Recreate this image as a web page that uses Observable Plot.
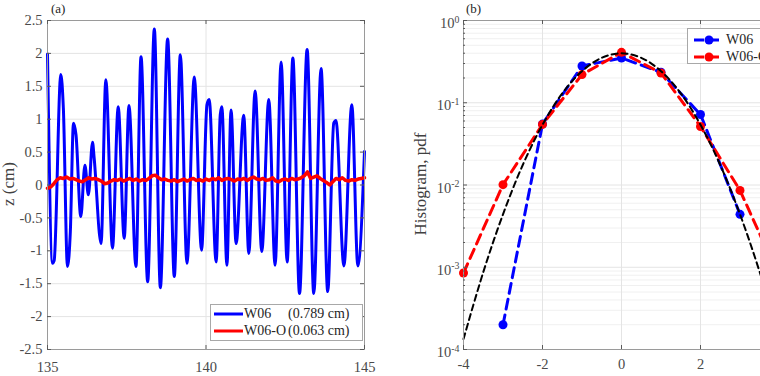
<!DOCTYPE html>
<html>
<head>
<meta charset="utf-8">
<script src="https://cdn.jsdelivr.net/npm/d3@7"></script>
<script src="https://cdn.jsdelivr.net/npm/@observablehq/plot@0.6"></script>
<style>
  html, body { margin: 0; padding: 0; background: #fff; overflow: hidden; }
  #fig { position: relative; width: 760px; height: 376px; overflow: hidden;
         font-family: "Liberation Serif", "Times New Roman", Times, serif; color: #262626; }
  .panel { position: absolute; top: 0; }
  .panel svg { max-width: none !important; }
  .tag { position: absolute; font-size: 13px; color: #262626; }
  .ylab { position: absolute; font-size: 17px; color: #404040; white-space: nowrap;
          transform: translate(-50%, -50%) rotate(-90deg); }
  .legend { position: absolute; background: #fff; border: 1px solid #a8a8a8; box-sizing: border-box;
            font-size: 14px; color: #262626; }
  .legend span { position: absolute; white-space: nowrap; line-height: 1; }
  .legend svg { position: absolute; left: 0; top: 0; overflow: visible; }
</style>
</head>
<body>
<div id="fig"></div>
<script>
// ---- panel (a): surface elevation time series ----
const xTicksA = [135, 140, 145];
const yTicksA = [-2.5, -2, -1.5, -1, -0.5, 0, 0.5, 1, 1.5, 2, 2.5];

// W06: crest / trough (and shoulder) samples, time in s, z in cm
const w06Time = [135.00, 135.16, 135.21, 135.42, 135.50, 135.63, 135.72, 135.82, 135.90, 136.05,
  136.18, 136.29, 136.42, 136.47, 136.69, 136.84, 137.05, 137.23, 137.42, 137.57,
  137.79, 137.95, 138.16, 138.37, 138.56, 138.79, 139.00, 139.19, 139.40, 139.63,
  139.86, 140.03, 140.10, 140.32, 140.45, 140.50, 140.66, 140.79, 140.95, 141.19,
  141.35, 141.55, 141.76, 141.98, 142.18, 142.37, 142.56, 142.74, 142.95, 143.19,
  143.40, 143.63, 143.84, 144.03, 144.10, 144.35, 144.60, 144.79, 145.00];
const w06Z = [1.99, -1.19, -1.15, 1.68, 1.17, -1.24, -0.71, 0.94, 0.76, -0.48,
  0.30, -0.15, 0.65, 0.42, -0.89, 1.60, -0.96, 1.19, -0.81, 1.21,
  -1.24, 1.95, -1.47, 2.37, -1.56, 2.22, -1.39, 1.98, -1.19, 1.64,
  -0.99, 1.22, 1.30, -1.17, 1.07, 1.19, -1.22, 1.14, -0.89, 1.06,
  -1.04, 1.43, -1.01, 1.30, -1.22, 1.87, -1.17, 1.93, -1.65, 2.06,
  -1.65, 1.77, -1.62, 0.94, 0.98, -1.23, 1.22, -1.23, 0.51];

// W06-O: sampled every 0.1 s from 135 s to 145 s
const w06oStart = 135, w06oStep = 0.1;
const w06oZ = [-0.05, -0.03, 0.02, 0.08, 0.11, 0.10, 0.12, 0.09, 0.10, 0.08,
  0.06, 0.05, 0.08, 0.11, 0.09, 0.10, 0.08, 0.06, 0.02, 0.03,
  0.06, 0.08, 0.07, 0.09, 0.06, 0.08, 0.10, 0.07, 0.09, 0.06,
  0.08, 0.07, 0.10, 0.14, 0.15, 0.11, 0.08, 0.09, 0.07, 0.06,
  0.08, 0.05, 0.07, 0.09, 0.06, 0.08, 0.10, 0.07, 0.08, 0.06,
  0.09, 0.07, 0.10, 0.08, 0.11, 0.07, 0.09, 0.10, 0.08, 0.06,
  0.09, 0.08, 0.10, 0.07, 0.10, 0.12, 0.09, 0.08, 0.10, 0.07,
  0.08, 0.11, 0.06, 0.05, 0.08, 0.09, 0.07, 0.10, 0.08, 0.09,
  0.11, 0.14, 0.20, 0.10, 0.12, 0.14, 0.10, 0.07, 0.04, 0.00,
  0.05, 0.10, 0.08, 0.11, 0.07, 0.06, 0.08, 0.07, 0.09, 0.10, 0.11];

// ---- panel (b): histogram pdf ----
const xTicksB = [-4, -2, 0, 2, 4];
const yTicksB = [1e-4, 1e-3, 1e-2, 1e-1, 1];
const binsW06 = [-3, -2, -1, 0, 1, 2, 3];
const pdfW06 = [0.0002, 0.055, 0.28, 0.35, 0.235, 0.072, 0.0044];
const binsW06O = [-4, -3, -2, -1, 0, 1, 2, 3, 4];
const pdfW06O = [0.00085, 0.0101, 0.0545, 0.22, 0.41, 0.23, 0.0515, 0.0086, 0.00075];
const gaussX = [-4, -3.5, -3, -2.5, -2, -1.5, -1, -0.5, 0, 0.5, 1, 1.5, 2, 2.5, 3, 3.5, 4];
const gaussPdf = [0.000134, 0.00087, 0.0044, 0.0175, 0.054, 0.13, 0.242, 0.352, 0.399,
  0.352, 0.242, 0.13, 0.054, 0.0175, 0.0044, 0.00087, 0.000134];

const seriesA = [
  {name: "W06", rms: "(0.789 cm)", color: "#0000ff"},
  {name: "W06-O", rms: "(0.063 cm)", color: "#ff0000"}
];

// tables for the marks
const w06 = w06Time.map((t, i) => ({t, z: w06Z[i]}));
const w06o = w06oZ.map((z, i) => ({t: w06oStart + i * w06oStep, z}));
const histW06 = binsW06.map((x, i) => ({x, p: pdfW06[i]}));
const histW06O = binsW06O.map((x, i) => ({x, p: pdfW06O[i]}));
const gauss = gaussX.map((x, i) => ({x, p: gaussPdf[i]}));
const minorB = [1e-4, 1e-3, 1e-2, 1e-1].flatMap(b => [2, 3, 4, 5, 6, 7, 8, 9].map(m => m * b));

const H = 376, MT = 20, MB = 27, PH = H - MT - MB;
const gridColor = "#e4e4e4", frameColor = "#9a9a9a", tickColor = "#5a5a5a";
const fmt = d => String(d);
const plotStyle = {fontFamily: '"Liberation Serif", "Times New Roman", serif', fontSize: "14.5px",
  color: "#4a4a4a", background: "transparent", overflow: "visible", maxWidth: "none"};

const fig = document.getElementById("fig");

// panel (a)
const WA = 380, MLA = 47, MRA = 16, PWA = WA - MLA - MRA;
const plotA = Plot.plot({
  width: WA, height: H, marginLeft: MLA, marginRight: MRA, marginTop: MT, marginBottom: MB,
  style: plotStyle,
  x: {domain: [135, 145]},
  y: {domain: [-2.5, 2.5]},
  marks: [
    Plot.gridX(xTicksA, {stroke: gridColor, strokeOpacity: 1}),
    Plot.gridY(yTicksA, {stroke: gridColor, strokeOpacity: 1}),
    Plot.line(w06, {x: "t", y: "z", stroke: seriesA[0].color, strokeWidth: 3, curve: "monotone-x"}),
    Plot.line(w06o, {x: "t", y: "z", stroke: seriesA[1].color, strokeWidth: 3.5, curve: "linear", strokeLinejoin: "round"}),
    Plot.frame({stroke: frameColor}),
    Plot.tickX(xTicksA, {x: d => d, stroke: tickColor, insetTop: PH - 4}),
    Plot.tickX(xTicksA, {x: d => d, stroke: tickColor, insetBottom: PH - 4}),
    Plot.tickY(yTicksA, {y: d => d, stroke: tickColor, insetRight: PWA - 4}),
    Plot.tickY(yTicksA, {y: d => d, stroke: tickColor, insetLeft: PWA - 4}),
    Plot.axisX(xTicksA, {tickSize: 0, tickPadding: 12, tickFormat: fmt, label: null}),
    Plot.axisY(yTicksA, {tickSize: 0, tickPadding: 5, tickFormat: fmt, label: null})
  ]
});
const pa = document.createElement("div");
pa.className = "panel"; pa.style.left = "0px"; pa.style.width = WA + "px";
pa.append(plotA);
fig.append(pa);

// panel (b)
const WB = 420, MLB = 83, MRB = 21, PWB = WB - MLB - MRB;
const plotB = Plot.plot({
  width: WB, height: H, marginLeft: MLB, marginRight: MRB, marginTop: MT, marginBottom: MB,
  style: plotStyle,
  x: {domain: [-4, 4]},
  y: {type: "log", domain: [1e-4, 1]},
  marks: [
    Plot.gridY(minorB, {stroke: "#f0f0f0", strokeOpacity: 1}),
    Plot.gridX(xTicksB, {stroke: gridColor, strokeOpacity: 1}),
    Plot.gridY(yTicksB, {stroke: gridColor, strokeOpacity: 1}),
    Plot.line(histW06, {x: "x", y: "p", stroke: "#0000ff", strokeWidth: 3, strokeDasharray: "10,6"}),
    Plot.dot(histW06, {x: "x", y: "p", fill: "#0000ff", r: 4.5}),
    Plot.line(histW06O, {x: "x", y: "p", stroke: "#ff0000", strokeWidth: 3, strokeDasharray: "10,6"}),
    Plot.dot(histW06O, {x: "x", y: "p", fill: "#ff0000", r: 4.5}),
    Plot.line(gauss, {x: "x", y: "p", stroke: "#000", strokeWidth: 2, strokeDasharray: "6,4", curve: "catmull-rom"}),
    Plot.frame({stroke: frameColor}),
    Plot.tickX(xTicksB, {x: d => d, stroke: tickColor, insetTop: PH - 4}),
    Plot.tickX(xTicksB, {x: d => d, stroke: tickColor, insetBottom: PH - 4}),
    Plot.tickY(yTicksB, {y: d => d, stroke: tickColor, insetRight: PWB - 4}),
    Plot.tickY(minorB, {y: d => d, stroke: tickColor, insetRight: PWB - 2}),
    Plot.axisX(xTicksB, {tickSize: 0, tickPadding: 9, tickFormat: fmt, label: null}),
    Plot.axisY(yTicksB, {tickSize: 0, tickPadding: 4, dy: 3, tickFormat: d => "10^" + Math.round(Math.log10(d)), label: null})
  ]
});
// exponent as raised, smaller text
const NS = "http://www.w3.org/2000/svg";
plotB.querySelectorAll("text").forEach(t => {
  if (!t.textContent.includes("^")) return;
  const [base, exp] = t.textContent.split("^");
  t.textContent = "";
  const b = document.createElementNS(NS, "tspan");
  b.textContent = base;
  const e = document.createElementNS(NS, "tspan");
  e.setAttribute("dy", "-0.55em");
  e.setAttribute("font-size", "0.68em");
  e.textContent = exp;
  t.append(b, e);
});
const pb = document.createElement("div");
pb.className = "panel"; pb.style.left = "380px"; pb.style.width = WB + "px";
pb.append(plotB);
fig.append(pb);

// panel tags and axis titles
function addTag(text, x, y) {
  const d = document.createElement("div");
  d.className = "tag"; d.textContent = text;
  d.style.left = x + "px"; d.style.top = y + "px";
  fig.append(d);
}
addTag("(a)", 51, 1);
addTag("(b)", 466, 1);

function addYLabel(text, x, y) {
  const d = document.createElement("div");
  d.className = "ylab"; d.textContent = text;
  d.style.left = x + "px"; d.style.top = y + "px";
  fig.append(d);
}
addYLabel("z (cm)", 9, 184);
addYLabel("Histogram, pdf", 421, 184);

// legend (a)
const legA = document.createElement("div");
legA.className = "legend";
Object.assign(legA.style, {left: "210px", top: "304px", width: "153px", height: "37px"});
let svgA = `<svg width="153" height="37">`;
seriesA.forEach((s, i) => {
  const y = 9 + i * 17;
  svgA += `<line x1="3" x2="32" y1="${y}" y2="${y}" stroke="${s.color}" stroke-width="3"/>`;
});
svgA += `</svg>`;
legA.innerHTML = svgA;
seriesA.forEach((s, i) => {
  const top = 2 + i * 17;
  const n = document.createElement("span");
  n.textContent = s.name; n.style.left = "33px"; n.style.top = top + "px";
  const r = document.createElement("span");
  r.textContent = s.rms; r.style.left = "77px"; r.style.top = top + "px";
  legA.append(n, r);
});
fig.append(legA);

// legend (b)
const legB = document.createElement("div");
legB.className = "legend";
Object.assign(legB.style, {left: "687px", top: "28px", width: "90px", height: "36px"});
let svgB = `<svg width="90" height="36">`;
seriesA.forEach((s, i) => {
  const y = 11 + i * 17;
  svgB += `<line x1="6" x2="36" y1="${y}" y2="${y}" stroke="${s.color}" stroke-width="3" stroke-dasharray="10,5"/>`;
  svgB += `<circle cx="21" cy="${y}" r="4.5" fill="${s.color}"/>`;
});
svgB += `</svg>`;
legB.innerHTML = svgB;
seriesA.forEach((s, i) => {
  const n = document.createElement("span");
  n.textContent = s.name; n.style.left = "38px"; n.style.top = (4 + i * 17) + "px";
  legB.append(n);
});
fig.append(legB);
</script>
</body>
</html>
